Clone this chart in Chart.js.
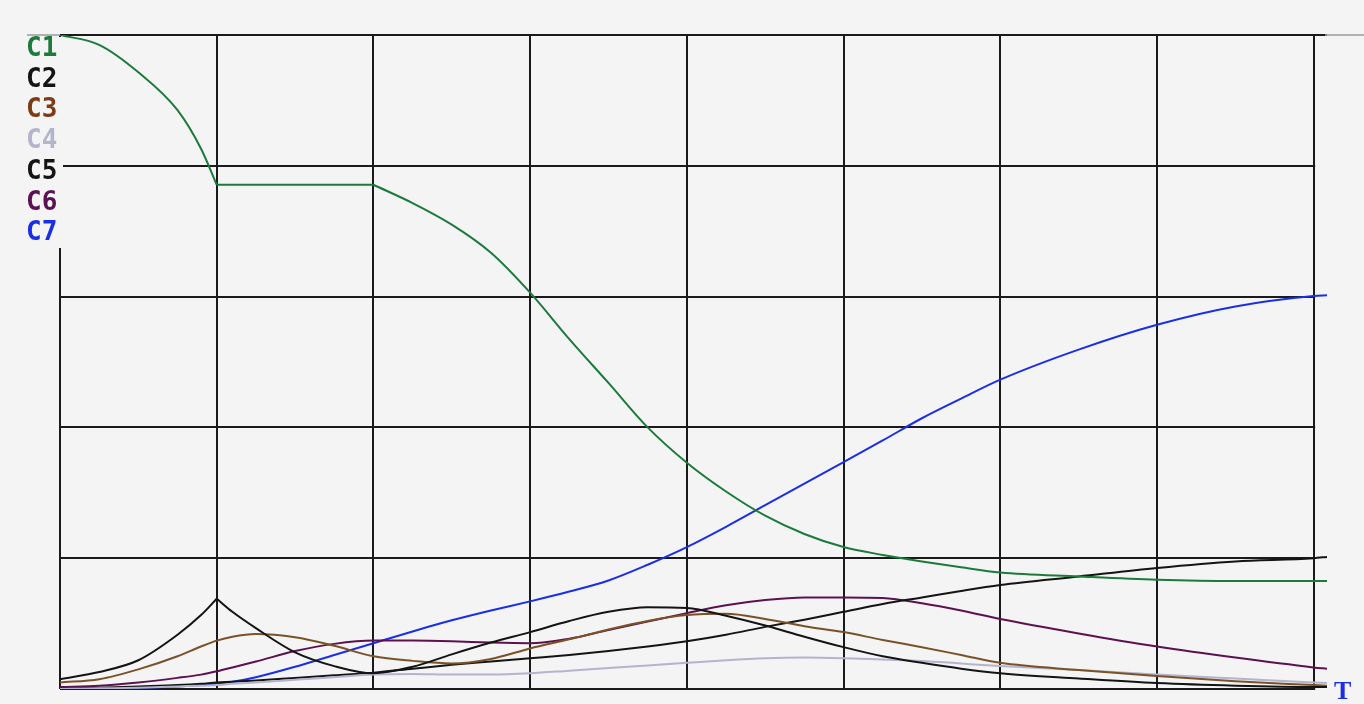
<!DOCTYPE html>
<html>
<head>
<meta charset="utf-8">
<script src="https://cdn.jsdelivr.net/npm/chart.js@4/dist/chart.umd.min.js"></script>
<style>
  html, body { margin: 0; padding: 0; background: #f4f4f4; }
  #wrap { position: relative; width: 1364px; height: 704px; }
  .lbl { position: absolute; left: 26px; font: bold 26px "DejaVu Sans Mono", monospace; line-height: 30px; }
  #tlabel { position: absolute; left: 1334px; top: 677px; color: #1a2ee6; font: bold 26px "Liberation Serif", serif; line-height: 28px; }
</style>
</head>
<body>
<div id="wrap">
  <canvas id="myChart" width="1364" height="704"></canvas>
  <div id="labels"></div>
  <div id="tlabel">T</div>
</div>
<script>
// time axis (grid units), concentrations
const T = [0, 0.25, 0.5, 0.75, 0.9, 1, 1.1, 1.25, 1.5, 1.75, 2, 2.25, 2.5, 2.75, 3, 3.25, 3.5, 3.75,
    4, 4.25, 4.5, 4.75, 5, 5.25, 5.5, 5.75, 6, 6.5, 7, 7.5, 8, 8.085];

const c1 = [1.0, 0.985, 0.943, 0.885, 0.826, 0.771, 0.771, 0.771, 0.771, 0.771, 0.771, 0.743, 0.71, 0.667, 0.606, 0.535, 0.468, 0.40,
    0.346, 0.302, 0.265, 0.237, 0.217, 0.205, 0.195, 0.186, 0.178, 0.172, 0.167, 0.165, 0.165, 0.165];
const c2 = [0.015, 0.026, 0.044, 0.083, 0.113, 0.138, 0.118, 0.093, 0.056, 0.035, 0.024, 0.034, 0.053, 0.071, 0.087, 0.104, 0.118, 0.125,
    0.124, 0.112, 0.097, 0.08, 0.064, 0.05, 0.04, 0.031, 0.024, 0.016, 0.009, 0.005, 0.003, 0.003];
const c3 = [0.01, 0.015, 0.03, 0.05, 0.065, 0.074, 0.08, 0.084, 0.079, 0.066, 0.05, 0.043, 0.039, 0.046, 0.062, 0.076, 0.091, 0.104,
    0.113, 0.115, 0.107, 0.096, 0.087, 0.075, 0.064, 0.052, 0.04, 0.029, 0.02, 0.012, 0.006, 0.005];
const c4 = [0, 0.001, 0.002, 0.004, 0.005, 0.006, 0.008, 0.01, 0.014, 0.018, 0.022, 0.023, 0.022, 0.022, 0.024, 0.028, 0.032, 0.036,
    0.04, 0.044, 0.047, 0.048, 0.047, 0.045, 0.043, 0.039, 0.035, 0.029, 0.022, 0.016, 0.01, 0.009];
const c5 = [0, 0.002, 0.004, 0.006, 0.008, 0.01, 0.011, 0.013, 0.017, 0.021, 0.025, 0.031, 0.037, 0.042, 0.047, 0.052, 0.058, 0.065,
    0.073, 0.083, 0.095, 0.106, 0.118, 0.13, 0.14, 0.15, 0.159, 0.172, 0.185, 0.195, 0.2, 0.202];
const c6 = [0.003, 0.005, 0.01, 0.017, 0.022, 0.027, 0.033, 0.042, 0.058, 0.069, 0.074, 0.074, 0.073, 0.071, 0.07, 0.077, 0.09, 0.103,
    0.116, 0.128, 0.136, 0.14, 0.14, 0.139, 0.131, 0.12, 0.107, 0.085, 0.065, 0.048, 0.033, 0.031];
const c7 = [0, 0.001, 0.002, 0.004, 0.006, 0.008, 0.011, 0.018, 0.034, 0.052, 0.07, 0.088, 0.105, 0.12, 0.134, 0.149, 0.166, 0.19,
    0.217, 0.248, 0.281, 0.314, 0.347, 0.38, 0.414, 0.444, 0.473, 0.519, 0.557, 0.585, 0.601, 0.602];

const names = ['C1', 'C2', 'C3', 'C4', 'C5', 'C6', 'C7'];
const series = [c1, c2, c3, c4, c5, c6, c7];
const lineColors = ['#1b7a3c', '#141414', '#7a5228', '#b4b4cc', '#141414', '#5c1250', '#1a2ee6'];
const labelColors = ['#1b7a3c', '#141414', '#7a3c14', '#b4b4cc', '#141414', '#5c1250', '#1a2ee6'];
// indexes in T where a curve has a corner (T = 1 and T = 2)
const corners = [[5, 10], [5], [], [], [], [], []];
const xTicks = [0, 1, 2, 3, 4, 5, 6, 7, 8];
const yTicks = [0, 0.2, 0.4, 0.6, 0.8, 1.0];

const BG = '#f4f4f4';

// legend text on the left
let labelBox = document.getElementById('labels');
for (let i = 0; i < names.length; i++) {
    let d = document.createElement('div');
    d.className = 'lbl';
    d.style.top = (32 + i * 30.7) + 'px';
    d.style.color = labelColors[i];
    d.textContent = names[i];
    labelBox.appendChild(d);
}

function makeSet(i, from, to) {
    let pts = [];
    for (let j = from; j <= to; j++) pts.push({ x: T[j], y: series[i][j] });
    return {
        label: names[i],
        data: pts,
        borderColor: lineColors[i],
        borderWidth: 2,
        pointRadius: 0,
        cubicInterpolationMode: 'monotone'
    };
}

// one dataset per smooth piece, so corners stay sharp
let datasets = [];
for (let i = 0; i < series.length; i++) {
    let cuts = [0].concat(corners[i], [T.length - 1]);
    for (let k = 0; k < cuts.length - 1; k++) {
        datasets.push(makeSet(i, cuts[k], cuts[k + 1]));
    }
}

// grid stops at T = 8, left edge hidden behind the labels, top line runs on
const framePlugin = {
    id: 'frame',
    beforeDatasetsDraw(chart) {
        const ctx = chart.ctx;
        const a = chart.chartArea;
        const x8 = chart.scales.x.getPixelForValue(8);
        ctx.save();
        ctx.fillStyle = BG;
        ctx.fillRect(a.left - 3, a.top + 2, 6, 246 - a.top);
        ctx.fillRect(x8 + 1.5, a.top + 2, a.right - x8 + 4, a.bottom - a.top + 4);
        ctx.strokeStyle = '#9a9a9a';
        ctx.lineWidth = 1.5;
        ctx.beginPath();
        ctx.moveTo(a.right - 2, a.top);
        ctx.lineTo(1364, a.top);
        ctx.moveTo(27, a.top);
        ctx.lineTo(a.left, a.top);
        ctx.stroke();
        ctx.restore();
    }
};

let ctx = document.getElementById('myChart');
let myChart = new Chart(ctx, {
    type: 'line',
    data: { datasets: datasets },
    options: {
        responsive: false,
        animation: false,
        layout: { padding: { left: 60, top: 35, right: 37, bottom: 15 } },
        plugins: { legend: { display: false }, tooltip: { enabled: false } },
        scales: {
            x: {
                type: 'linear', min: 0, max: T[T.length - 1],
                afterBuildTicks: axis => { axis.ticks = xTicks.map(v => ({ value: v })); },
                ticks: { display: false },
                grid: { color: '#1a1a1a', lineWidth: 2, drawTicks: false },
                border: { display: false }
            },
            y: {
                min: 0, max: 1,
                afterBuildTicks: axis => { axis.ticks = yTicks.map(v => ({ value: v })); },
                ticks: { display: false },
                grid: { color: '#1a1a1a', lineWidth: 2, drawTicks: false },
                border: { display: false }
            }
        }
    },
    plugins: [framePlugin]
});
</script>
</body>
</html>
